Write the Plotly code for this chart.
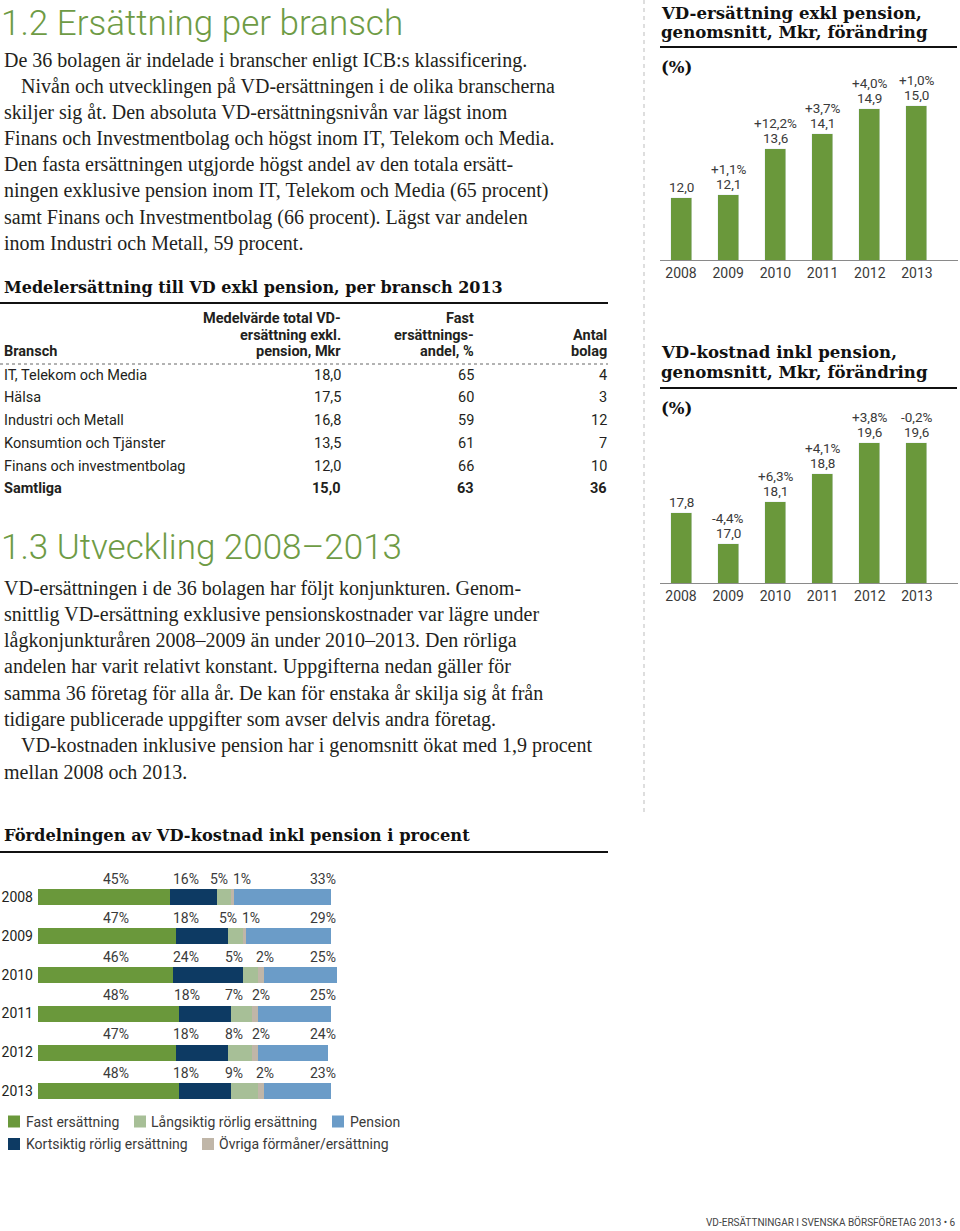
import plotly.graph_objects as go

W, H = 960, 1231


def px(x):
    return x / W


def py(y):
    return 1 - y / H


# ---------------- data ----------------
years = [2008, 2009, 2010, 2011, 2012, 2013]
exkl_values = [12.0, 12.1, 13.6, 14.1, 14.9, 15.0]
exkl_change = ["", "+1,1%", "+12,2%", "+3,7%", "+4,0%", "+1,0%"]
inkl_values = [17.8, 17.0, 18.1, 18.8, 19.6, 19.6]
inkl_change = ["", "-4,4%", "+6,3%", "+4,1%", "+3,8%", "-0,2%"]

branscher = ["IT, Telekom och Media", "Hälsa", "Industri och Metall",
             "Konsumtion och Tjänster", "Finans och investmentbolag", "Samtliga"]
medel_mkr = [18.0, 17.5, 16.8, 13.5, 12.0, 15.0]
fast_andel = [65, 60, 59, 61, 66, 63]
antal_bolag = [4, 3, 12, 7, 10, 36]

fast = [45, 47, 46, 48, 47, 48]
kortsiktig = [16, 18, 24, 18, 18, 18]
langsiktig = [5, 5, 5, 7, 8, 9]
ovriga = [1, 1, 2, 2, 2, 2]
pension = [33, 29, 25, 25, 24, 23]

# label column positions (in % units) for the stacked chart labels
label_cols = [
    [26.6, 50.4, 61.8, 69.7, 97.2],
    [26.6, 50.4, 65.0, 72.7, 97.2],
    [26.6, 50.4, 67.0, 77.5, 97.2],
    [26.6, 51.0, 67.0, 76.0, 97.2],
    [26.6, 50.4, 67.0, 76.0, 97.2],
    [26.6, 50.4, 67.0, 77.5, 97.2],
]

# ---------------- styles ----------------
GREEN = "#6a983b"
TITLE_GREEN = "#6e9b45"
NAVY = "#0d3a63"
LIGHTGREEN = "#a7bf97"
BEIGE = "#c0b6a8"
BLUE = "#6b9cc8"
INK = "#231f20"
GRAY = "#3a3a3a"
SANS = "Roboto"
SERIF = "Liberation Serif"
SLAB = "DejaVu Serif"


def fmt(v):
    return f"{v:.1f}".replace(".", ",")


fig = go.Figure()
annotations = []
shapes = []


def txt(x, y, s, size, family, color=INK, xanchor="left", yanchor="middle", weight=None,
        xref="paper", yref="paper", yshift=0):
    font = dict(size=size, family=family, color=color)
    if weight is not None:
        font["weight"] = weight
    annotations.append(dict(
        x=px(x) if xref == "paper" else x, y=py(y) if yref == "paper" else y,
        xref=xref, yref=yref, text=s, showarrow=False, xanchor=xanchor, yanchor=yanchor,
        font=font, yshift=yshift, borderpad=0))


def hline(x0, x1, y, width=2, color="#111", dash=None):
    line = dict(color=color, width=width)
    if dash:
        line["dash"] = dash
    shapes.append(dict(type="line", xref="paper", yref="paper", x0=px(x0), x1=px(x1),
                       y0=py(y), y1=py(y), line=line))


# ---------------- text: section 1.2 ----------------
txt(0, 23, "1.2 Ersättning per bransch", 35, SANS, TITLE_GREEN, weight=300)
body1 = [
    (3, "De 36 bolagen är indelade i branscher enligt ICB:s klassificering."),
    (20, "Nivån och utvecklingen på VD-ersättningen i de olika branscherna"),
    (3, "skiljer sig åt. Den absoluta VD-ersättningsnivån var lägst inom"),
    (3, "Finans och Investmentbolag och högst inom IT, Telekom och Media."),
    (3, "Den fasta ersättningen utgjorde högst andel av den totala ersätt-"),
    (3, "ningen exklusive pension inom IT, Telekom och Media (65 procent)"),
    (3, "samt Finans och Investmentbolag (66 procent). Lägst var andelen"),
    (3, "inom Industri och Metall, 59 procent."),
]
for i, (x0, line) in enumerate(body1):
    txt(x0, 60 + i * 26.2, line, 20, SERIF)

# ---------------- table ----------------
txt(3, 287, "Medelersättning till VD exkl pension, per bransch 2013", 16, SLAB, "#111", weight="bold")
hline(0, 608, 303, width=2)
COL2, COL3, COL4 = 342, 475, 608
hdr = [(318, "Medelvärde total VD-", "Fast", ""),
       (335, "ersättning exkl.", "ersättnings-", "Antal"),
       (352, "pension, Mkr", "andel, %", "bolag")]
for y, a, b, c in hdr:
    txt(COL2, y, a, 14.5, SANS, INK, xanchor="right", weight="bold")
    txt(COL3, y, b, 14.5, SANS, INK, xanchor="right", weight="bold")
    if c:
        txt(COL4, y, c, 14.5, SANS, INK, xanchor="right", weight="bold")
txt(3, 352, "Bransch", 14.5, SANS, INK, weight="bold")
hline(0, 608, 364, width=1, color="#666", dash="dot")
for i, name in enumerate(branscher):
    y = 375 + i * 22.8
    wt = "bold" if name == "Samtliga" else "normal"
    txt(3, y, name, 14.5, SANS, INK, weight=wt)
    txt(COL2, y, fmt(medel_mkr[i]), 14.5, SANS, INK, xanchor="right", weight=wt)
    txt(COL3, y, str(fast_andel[i]), 14.5, SANS, INK, xanchor="right", weight=wt)
    txt(COL4, y, str(antal_bolag[i]), 14.5, SANS, INK, xanchor="right", weight=wt)

# ---------------- text: section 1.3 ----------------
txt(0, 547, "1.3 Utveckling 2008–2013", 35, SANS, TITLE_GREEN, weight=300)
body2 = [
    (3, "VD-ersättningen i de 36 bolagen har följt konjunkturen. Genom-"),
    (3, "snittlig VD-ersättning exklusive pensionskostnader var lägre under"),
    (3, "lågkonjunkturåren 2008–2009 än under 2010–2013. Den rörliga"),
    (3, "andelen har varit relativt konstant. Uppgifterna nedan gäller för"),
    (3, "samma 36 företag för alla år. De kan för enstaka år skilja sig åt från"),
    (3, "tidigare publicerade uppgifter som avser delvis andra företag."),
    (20, "VD-kostnaden inklusive pension har i genomsnitt ökat med 1,9 procent"),
    (3, "mellan 2008 och 2013."),
]
for i, (x0, line) in enumerate(body2):
    txt(x0, 588 + i * 26.3, line, 20, SERIF)

# ---------------- right column charts ----------------
shapes.append(dict(type="line", xref="paper", yref="paper", x0=px(644), x1=px(644),
                   y0=py(0), y1=py(815), line=dict(color="#bdbdbd", width=1, dash="4px,4px")))

txt(660, 13, "VD-ersättning exkl pension,", 16.6, SLAB, "#111", weight="bold")
txt(660, 32, "genomsnitt, Mkr, förändring", 16.6, SLAB, "#111", weight="bold")
hline(660, 957, 47, width=2)
txt(660, 67, "(%)", 16.6, SLAB, "#111", weight="bold")

txt(660, 352, "VD-kostnad inkl pension,", 16.6, SLAB, "#111", weight="bold")
txt(660, 372, "genomsnitt, Mkr, förändring", 16.6, SLAB, "#111", weight="bold")
hline(660, 957, 388, width=2)
txt(660, 408, "(%)", 16.6, SLAB, "#111", weight="bold")

fig.add_trace(go.Bar(x=years, y=exkl_values, marker_color=GREEN, width=0.445,
                     xaxis="x", yaxis="y", showlegend=False, hoverinfo="skip"))
fig.add_trace(go.Bar(x=years, y=inkl_values, marker_color=GREEN, width=0.445,
                     xaxis="x2", yaxis="y2", showlegend=False, hoverinfo="skip"))

for i, yr in enumerate(years):
    txt(yr, exkl_values[i], fmt(exkl_values[i]), 13.5, SANS, GRAY, xanchor="center",
        xref="x", yref="y", yshift=11)
    if exkl_change[i]:
        txt(yr, exkl_values[i], exkl_change[i], 13.5, SANS, GRAY, xanchor="center",
            xref="x", yref="y", yshift=26)
    txt(yr, inkl_values[i], fmt(inkl_values[i]), 13.5, SANS, GRAY, xanchor="center",
        xref="x2", yref="y2", yshift=11)
    if inkl_change[i]:
        txt(yr, inkl_values[i], inkl_change[i], 13.5, SANS, GRAY, xanchor="center",
            xref="x2", yref="y2", yshift=26)

year_axis = dict(range=[2007.555, 2013.869], tickvals=years, ticktext=[str(y) for y in years],
                 showgrid=False, zeroline=False, showline=True, linecolor="#8a8a8a", linewidth=1,
                 ticks="", tickfont=dict(family=SANS, size=14, color=GRAY), fixedrange=True)

# ---------------- bottom stacked chart ----------------
txt(3, 835, "Fördelningen av VD-kostnad inkl pension i procent", 16.3, SLAB, "#111", weight="bold")
hline(0, 608, 852, width=2)

segments = [("Fast ersättning", fast, GREEN),
            ("Kortsiktig rörlig ersättning", kortsiktig, NAVY),
            ("Långsiktig rörlig ersättning", langsiktig, LIGHTGREEN),
            ("Övriga förmåner/ersättning", ovriga, BEIGE),
            ("Pension", pension, BLUE)]
for name, vals, col in segments:
    fig.add_trace(go.Bar(y=years, x=vals, orientation="h", name=name, marker_color=col,
                         marker_line_width=0, width=0.41, xaxis="x3", yaxis="y3",
                         showlegend=False, hoverinfo="skip"))

for r, yr in enumerate(years):
    vals = [fast[r], kortsiktig[r], langsiktig[r], ovriga[r], pension[r]]
    for c, v in enumerate(vals):
        txt(label_cols[r][c], yr, f"{v}%", 14, SANS, GRAY, xanchor="center",
            xref="x3", yref="y3", yshift=18)

# manual legend
legend_items = [(8, 1121.5, 25, "Fast ersättning", GREEN),
                (134, 1121.5, 150, "Långsiktig rörlig ersättning", LIGHTGREEN),
                (332, 1121.5, 349, "Pension", BLUE),
                (8, 1144, 25, "Kortsiktig rörlig ersättning", NAVY),
                (202, 1144, 218, "Övriga förmåner/ersättning", BEIGE)]
for sx, sy, tx, label, col in legend_items:
    shapes.append(dict(type="rect", xref="paper", yref="paper", x0=px(sx), x1=px(sx + 12),
                       y0=py(sy + 6), y1=py(sy - 6), fillcolor=col, line=dict(width=0)))
    txt(tx, sy, label, 14, SANS, GRAY)

# footer
txt(957, 1222, "VD-ERSÄTTNINGAR I SVENSKA BÖRSFÖRETAG 2013 \u2022 6", 10, SANS, "#444",
    xanchor="right")

SCALE = 2.93
fig.update_layout(
    width=W, height=H, autosize=False,
    margin=dict(l=0, r=0, t=0, b=0, pad=0),
    paper_bgcolor="white", plot_bgcolor="rgba(0,0,0,0)",
    barmode="stack", bargap=0,
    showlegend=False,
    xaxis=dict(domain=[px(660), px(958)], anchor="y", **year_axis),
    yaxis=dict(domain=[py(260), py(70)], range=[10, 16.17], visible=False, fixedrange=True),
    xaxis2=dict(domain=[px(660), px(958)], anchor="y2", **year_axis),
    yaxis2=dict(domain=[py(583), py(410)], range=[16, 20.46], visible=False, fixedrange=True),
    xaxis3=dict(domain=[px(38), px(38 + SCALE * 105)], range=[0, 105], anchor="y3",
                visible=False, fixedrange=True),
    yaxis3=dict(domain=[py(1110.4), py(877.6)], range=[2013.5, 2007.5], anchor="x3",
                tickvals=years, ticktext=[str(y) for y in years], ticks="",
                ticklabelstandoff=4,
                showgrid=False, zeroline=False, showline=False,
                tickfont=dict(family=SANS, size=14, color=INK), fixedrange=True),
    annotations=annotations,
    shapes=shapes,
)

fig.write_html("out.html", config={"displayModeBar": False},
               post_script="document.body.style.margin='0px';document.body.style.overflow='hidden';")
